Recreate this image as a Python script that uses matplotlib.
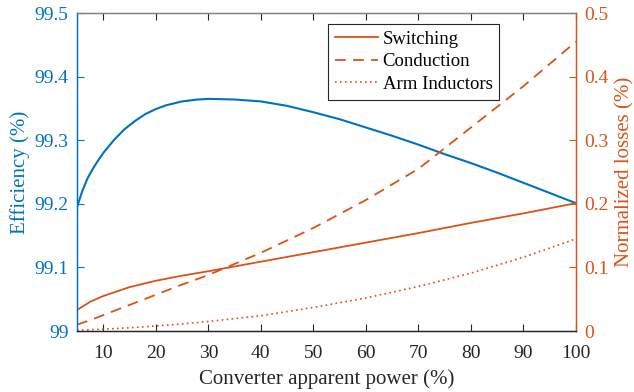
import matplotlib.pyplot as plt

plt.rcParams['font.family'] = ['Liberation Serif', 'DejaVu Serif']

# efficiency curve (%)
power_eff = [5, 6, 7, 8, 9, 10, 12, 14, 16, 18, 20, 22, 25, 28, 30, 35, 40,
             45, 50, 55, 60, 65, 70, 75, 80, 85, 90, 95, 100]
efficiency = [99.195, 99.220, 99.240, 99.255, 99.268, 99.280, 99.300, 99.317,
              99.330, 99.341, 99.349, 99.355, 99.361, 99.364, 99.365, 99.364,
              99.361, 99.354, 99.344, 99.333, 99.320, 99.307, 99.293, 99.278,
              99.264, 99.249, 99.233, 99.217, 99.201]

# normalized losses (%)
power_loss = [5, 7.5, 10, 15, 20, 25, 30, 40, 50, 60, 70, 80, 90, 100]
switching = [0.033, 0.046, 0.055, 0.069, 0.079, 0.087, 0.094, 0.109, 0.124,
             0.139, 0.154, 0.170, 0.185, 0.201]
conduction = [0.010, 0.017, 0.025, 0.041, 0.057, 0.073, 0.088, 0.123, 0.162,
              0.206, 0.255, 0.320, 0.385, 0.455]
arm_inductors = [0.001, 0.002, 0.003, 0.005, 0.008, 0.011, 0.015, 0.024,
                 0.037, 0.052, 0.070, 0.091, 0.116, 0.145]

blue = '#0072BD'
orange = '#D95319'

fig = plt.figure(figsize=(6.34, 3.92), dpi=100)
ax = fig.add_axes([0.1215, 0.1556, 0.787, 0.8112])
ax2 = ax.twinx()

ax.plot(power_eff, efficiency, color=blue, lw=1.5)
ax2.plot(power_loss, switching, color=orange, lw=1.3, label='Switching')
ax2.plot(power_loss, conduction, color=orange, lw=1.3, ls=(0, (6, 4)), label='Conduction')
ax2.plot(power_loss, arm_inductors, color=orange, lw=1.2, ls=(0, (1, 2)), label='Arm Inductors')

ax.set_xlim(5, 100)
ax.set_ylim(99, 99.5)
ax2.set_ylim(0, 0.5)
ax.set_xticks(range(10, 101, 10))
ax.set_yticks([99, 99.1, 99.2, 99.3, 99.4, 99.5])
ax.set_yticklabels(['99', '99.1', '99.2', '99.3', '99.4', '99.5'])
ax2.set_yticks([0, 0.1, 0.2, 0.3, 0.4, 0.5])
ax2.set_yticklabels(['0', '0.1', '0.2', '0.3', '0.4', '0.5'])

ax.set_xlabel('Converter apparent power (%)', fontsize=15, color='#262626', labelpad=5)
ax.set_ylabel('Efficiency (%)', fontsize=15, color=blue, labelpad=3)
ax2.set_ylabel('Normalized losses (%)', fontsize=15, color=orange, labelpad=5)

ax.tick_params(axis='x', direction='in', top=True, labelsize=14, colors='#262626', length=5, pad=10)
ax.tick_params(axis='y', direction='in', labelsize=14, colors=blue, length=5, pad=6)
ax2.tick_params(axis='y', direction='in', labelsize=14, colors=orange, length=5, pad=6)

for a in (ax, ax2):
    a.spines['top'].set_color('#808080')
    a.spines['bottom'].set_color('#262626')
    a.spines['left'].set_color(blue)
    a.spines['right'].set_color(orange)
    for s in a.spines.values():
        s.set_linewidth(0.9)

leg = ax2.legend(loc='upper right', bbox_to_anchor=(0.846, 0.966), borderaxespad=0,
                 fontsize=13.5, fancybox=False, framealpha=1, edgecolor='#262626',
                 handlelength=2.3, handletextpad=0.25, labelspacing=0.3,
                 borderpad=0.35)
leg.get_frame().set_linewidth(0.8)

fig.savefig('out.png', dpi=100)
